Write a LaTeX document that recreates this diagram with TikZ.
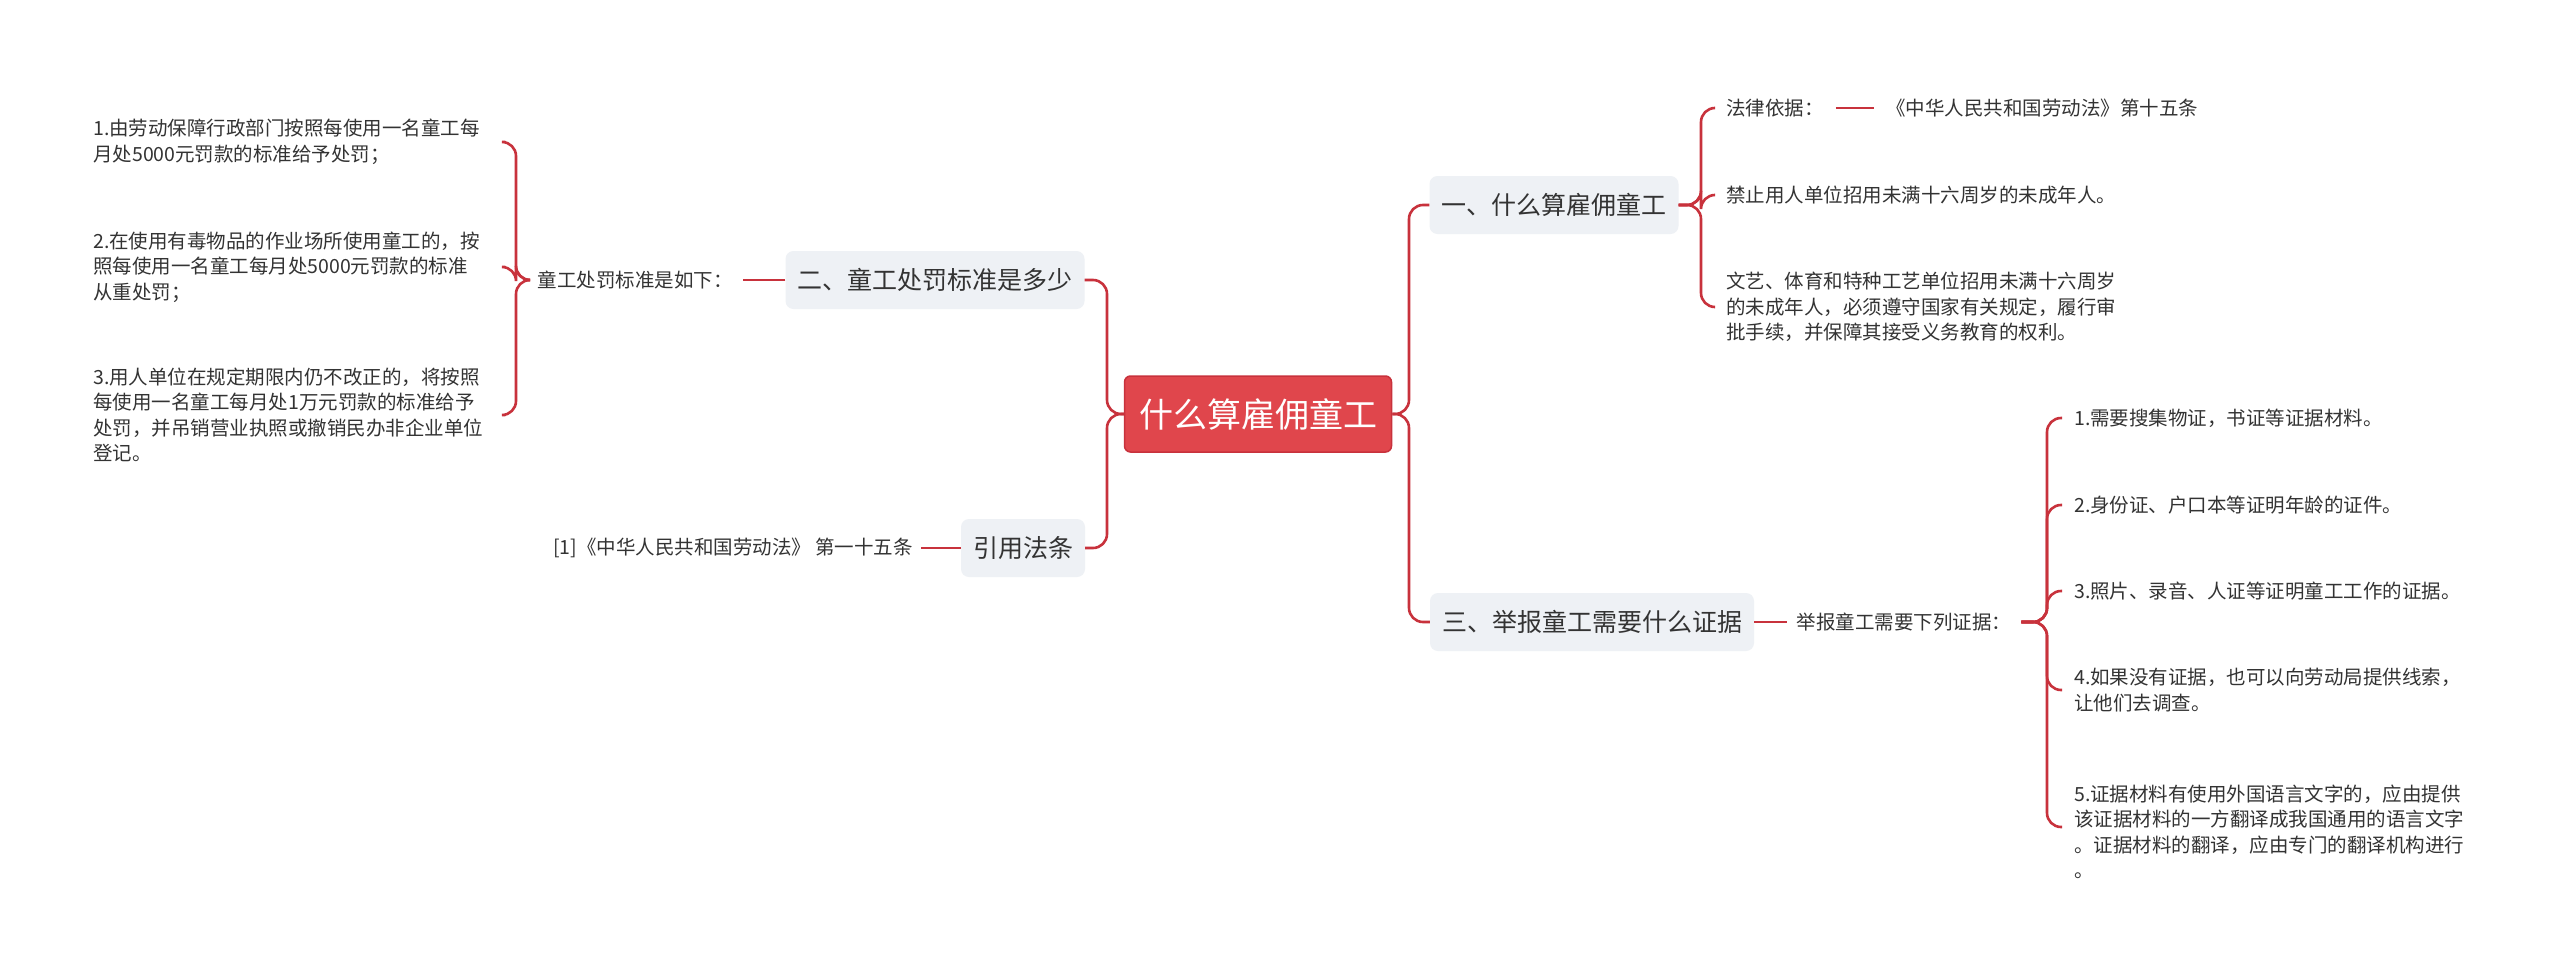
\documentclass[tikz,border=0pt]{standalone}
\usepackage{fontspec}
\setmainfont{Noto Sans CJK SC}
\definecolor{linkred}{RGB}{200,50,60}
\definecolor{rootred}{RGB}{224,70,76}
\definecolor{boxgray}{RGB}{238,241,245}
\definecolor{txt}{RGB}{51,51,51}
\tikzset{
  link/.style={draw=linkred,line width=2.6pt,rounded corners=14pt},
  rootbox/.style={fill=rootred,draw=linkred,line width=1.5pt,rounded corners=6pt,text=white,
    font=\fontsize{34}{40}\selectfont,minimum width=267pt,minimum height=76pt},
  topicbox/.style={fill=boxgray,rounded corners=8pt,text=txt,inner xsep=12pt,
    font=\fontsize{25}{30}\selectfont,minimum height=58pt},
  leaf/.style={text=txt,font=\fontsize{19.5}{25.5}\selectfont,align=left,inner xsep=12pt,inner ysep=2pt},
  leftleaf/.style={leaf,inner xsep=0pt,text width=412pt,anchor=west}
}
\begin{document}
\begin{tikzpicture}[x=1pt,y=-1pt]
\useasboundingbox[fill=white] (0,0) rectangle (2560,972);

% centre and main topics
\node[rootbox] (root) at (1258,414) {什么算雇佣童工};
\node[topicbox] (t1) at (1554,205) {一、什么算雇佣童工};
\node[topicbox] (t3) at (1592,622) {三、举报童工需要什么证据};
\node[topicbox] (t2) at (935,280) {二、童工处罚标准是多少};
\node[topicbox] (t4) at (1023,548) {引用法条};

\coordinate (rs) at (1409,414);
\coordinate (ls) at (1107,414);
\draw[link] (root.east) -- (rs) |- (t1.west);
\draw[link] (root.east) -- (rs) |- (t3.west);
\draw[link] (root.west) -- (ls) |- (t2.east);
\draw[link] (root.west) -- (ls) |- (t4.east);

% 一
\node[leaf,anchor=west] (a1) at (1714,108) {法律依据：};
\node[leaf,anchor=west] (a1b) at (1874,108) {《中华人民共和国劳动法》第十五条};
\node[leaf,anchor=west] (a2) at (1714,195) {禁止用人单位招用未满十六周岁的未成年人。};
\node[leaf,anchor=west] (a3) at (1714,307) {文艺、体育和特种工艺单位招用未满十六周岁\\的未成年人，必须遵守国家有关规定，履行审\\批手续，并保障其接受义务教育的权利。};
\coordinate (s1) at (1701,205);
\draw[link] (t1.east) -- (s1) |- (a1.west);
\draw[link] (t1.east) -- (s1) |- (a2.west);
\draw[link] (t1.east) -- (s1) |- (a3.west);
\draw[link] (a1.east) -- (a1b.west);

% 三
\node[leaf,inner xsep=10pt] (b0) at (1904,622) {举报童工需要下列证据：};
\node[leaf,anchor=west] (b1) at (2062,418) {1.需要搜集物证，书证等证据材料。};
\node[leaf,anchor=west] (b2) at (2062,505) {2.身份证、户口本等证明年龄的证件。};
\node[leaf,anchor=west] (b3) at (2062,591) {3.照片、录音、人证等证明童工工作的证据。};
\node[leaf,anchor=west] (b4) at (2062,690) {4.如果没有证据，也可以向劳动局提供线索，\\让他们去调查。};
\node[leaf,anchor=west] (b5) at (2062,832) {5.证据材料有使用外国语言文字的，应由提供\\该证据材料的一方翻译成我国通用的语言文字\\。证据材料的翻译，应由专门的翻译机构进行\\。};
\coordinate (s3) at (2047,622);
\draw[link] (t3.east) -- (b0.west);
\foreach \n in {b1,b2,b3,b4} \draw[link] (b0.east) -- (s3) |- (\n.west);
\draw[link] (b0.east) -- (s3) |- ([yshift=5pt]b5.west);

% 二
\node[leaf,inner xsep=10pt] (c0) at (635,280) {童工处罚标准是如下：};
\node[leftleaf] (c1) at (93,142) {1.由劳动保障行政部门按照每使用一名童工每\\月处5000元罚款的标准给予处罚；};
\node[leftleaf] (c2) at (93,267) {2.在使用有毒物品的作业场所使用童工的，按\\照每使用一名童工每月处5000元罚款的标准\\从重处罚；};
\node[leftleaf] (c3) at (93,415) {3.用人单位在规定期限内仍不改正的，将按照\\每使用一名童工每月处1万元罚款的标准给予\\处罚，并吊销营业执照或撤销民办非企业单位\\登记。};
\coordinate (s2) at (516,280);
\draw[link] (t2.west) -- (c0.east);
\foreach \n in {c1,c2,c3} \draw[link] (c0.west) -- (s2) |- (\n.east);

% 引用法条
\node[leaf,inner xsep=8pt] (d1) at (733,548) {[1]《中华人民共和国劳动法》 第一十五条};
\draw[link] (t4.west) -- (d1.east);
\end{tikzpicture}
\end{document}
